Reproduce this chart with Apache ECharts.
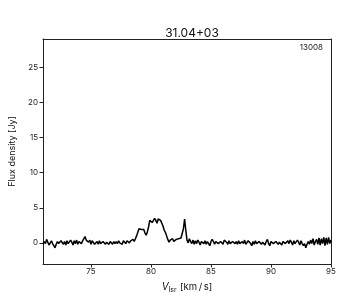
<!DOCTYPE html>
<html>
<head>
<meta charset="utf-8">
<script src="https://cdn.jsdelivr.net/npm/echarts@6/dist/echarts.min.js"></script>
<style>html,body{margin:0;padding:0;background:#fff}#c{width:360px;height:300px}</style>
</head>
<body>
<div id="c"></div>
<script>
var title = "31.04+03";
var tag = "13008";
var vStart = 71.0, vStep = 0.1;
var flux = [
 -0.2, 0.2, -0.1, 0.5, 0.3, -0.3, -0.1, 0.3, -0.1, -0.4, -0.7,
 -0.2, 0.2, -0.1, -0.3, 0.3, 0.1, -0.2, 0.2, -0.3, 0.3,
 -0.1, -0.2, 0.4, 0.1, -0.3, 0.3, -0.1, 0.4, -0.2, 0.2,
 0.4, -0.1, 0.3, 0.5, 0.9, 0.4, 0.6, 0.1, 0.4, -0.2,
 0.3, 0.5, -0.2, -0.4, 0.2, -0.2, 0.3, -0.1, -0.3, 0.2,
 0.3, -0.2, 0.1, 0.3, -0.2, 0.2, 0.4, -0.2, 0.2, -0.1,
 0.2, -0.1, 0.3, 0.0, 0.2, -0.2, 0.3, 0.1, -0.1, 0.3,
 0.4, 0.0, 0.3, 0.1, 0.5, 0.2, 0.6, 1.0, 1.5, 2.0,
 2.2, 1.9, 1.7, 1.9, 1.4, 1.1, 1.6, 2.3, 3.2, 3.4,
 2.9, 2.7, 3.5, 3.2, 2.8, 3.4, 3.5, 3.2, 3.0, 2.4,
 1.8, 1.5, 1.0, 0.5, 0.1, 0.4, 0.2, 0.6, 0.2, 0.4,
 0.5, 0.3, 0.6, 0.4, 0.7, 0.9, 2.0, 3.4, 1.8, 0.4,
 0.0, 0.6, 0.2, -0.1, 0.4, -0.2, 0.3, -0.1, 0.4, 0.1,
 -0.3, 0.2, 0.4, -0.1, 0.3, -0.2, 0.2, -0.1, -0.4, 0.2,
 0.5, 0.2, -0.2, 0.2, 0.4, -0.1, -0.3, 0.2, 0.3, -0.2,
 0.4, 0.6, 0.1, -0.2, 0.3, -0.1, -0.3, 0.2, 0.4, -0.1,
 0.2, -0.2, 0.3, -0.1, -0.3, 0.2, -0.1, 0.4, -0.2, 0.0,
 0.3, 0.5, -0.1, -0.4, 0.2, -0.2, 0.3, -0.1, -0.3, 0.2,
 0.4, -0.2, 0.1, 0.3, -0.3, 0.2, 0.5, -0.1, -0.4, 0.2,
 0.3, -0.1, -0.3, 0.2, 0.4, -0.2, 0.1, 0.3, -0.3, 0.2,
 0.4, -0.1, -0.3, 0.3, -0.1, 0.4, 0.1, -0.3, 0.3, -0.1,
 -0.2, 0.4, 0.1, -0.3, 0.3, -0.1, -0.4, -0.1, -0.7, -0.2,
 0.2, -0.2, 0.4, -0.1, 0.6, -0.3, 0.2, 0.5, -0.2, 0.7,
 -0.3, 0.6, -0.1, 0.8, -0.4, 0.7, -0.2, 0.8, -0.1, 0.4
];
var xTicks = [75, 80, 85, 90, 95];
var yTicks = [0, 5, 10, 15, 20, 25];

var velocity = flux.map(function (_, i) { return +(vStart + i * vStep).toFixed(2); });
var pts = flux.map(function (f, i) { return [velocity[i], f]; });

var font = 'Inter';
var chart = echarts.init(document.getElementById('c'), null, {renderer: 'canvas'});
var axisCommon = {
  axisLine: {show: true, onZero: false, lineStyle: {color: '#222', width: 1}},
  splitLine: {show: false}
};
chart.setOption({
  animation: false,
  backgroundColor: '#fff',
  title: {
    text: title, left: 187, top: 22, textAlign: 'center',
    textStyle: {fontFamily: font, fontSize: 12, fontWeight: 'normal', color: '#111'}
  },
  graphic: [{
    type: 'text', right: 37, top: 44,
    style: {text: tag, fontFamily: font, fontSize: 8, fill: '#222'}
  }],
  grid: {left: 43, right: 29, top: 39, bottom: 36},
  xAxis: [Object.assign({
    type: 'value', min: 71, max: 95, interval: 5,
    name: '{i|V}{s|lsr} {n|[km\u2009/\u2009s]}', nameLocation: 'middle', nameGap: 16,
    nameTextStyle: {rich: {
      i: {fontFamily: font, fontSize: 10, fontStyle: 'italic', color: '#111'},
      s: {fontFamily: font, fontSize: 7, color: '#111', verticalAlign: 'bottom', padding: [4, 0, 0, 0]},
      n: {fontFamily: font, fontSize: 9.5, color: '#111'}
    }},
    axisLabel: {fontFamily: font, fontSize: 8, color: '#222', margin: 4,
      customValues: xTicks},
  }, axisCommon, {axisTick: {show: true, length: 3.5, customValues: xTicks, lineStyle: {color: '#222'}}}),
  Object.assign({
    type: 'value', min: 71, max: 95, position: 'top',
    axisTick: {show: false}, axisLabel: {show: false}
  }, axisCommon)],
  yAxis: [Object.assign({
    type: 'value', min: -3, max: 29,
    name: 'Flux density [Jy]', nameLocation: 'middle', nameGap: 24,
    nameTextStyle: {fontFamily: font, fontSize: 9, color: '#111'},
    axisLabel: {fontFamily: font, fontSize: 8, color: '#222', margin: 5, customValues: yTicks}
  }, axisCommon, {axisTick: {show: true, length: 3.5, customValues: yTicks, lineStyle: {color: '#222'}}}),
  Object.assign({
    type: 'value', min: -3, max: 29, position: 'right',
    axisTick: {show: false}, axisLabel: {show: false}
  }, axisCommon)],
  series: [{
    type: 'line', data: pts, showSymbol: false, symbol: 'none',
    lineStyle: {color: '#000', width: 1.5}, clip: true
  }]
});
</script>
</body>
</html>
